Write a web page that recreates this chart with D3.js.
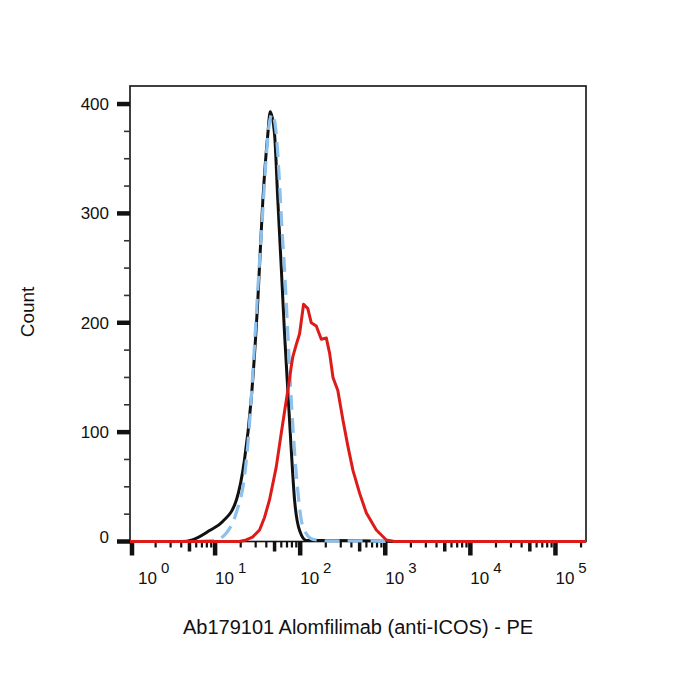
<!DOCTYPE html>
<html>
<head>
<meta charset="utf-8">
<script src="https://cdn.jsdelivr.net/npm/d3@7"></script>
<style>
  body { margin: 0; background: #fff; }
  svg { font-family: "Liberation Sans", Arial, sans-serif; }
</style>
</head>
<body>
<div id="chart"></div>
<script>
// fluorescence intensity (PE) and cell counts
const blackX = [1, 4.1, 5.4, 8.6, 12.2, 17.8, 22.1, 26.5, 31.8, 36.4, 41.7, 44.5, 49.9, 54.6, 59.9, 65.5, 71.6, 78.5, 85.9, 98.4, 118, 169, 500, 984, 1290, 228000];
const blackY = [0, 0, 1.5, 10, 18, 38, 74, 129, 221, 312, 373, 393, 373, 312, 251, 190, 138, 84, 38, 10, 1, 1, 0.8, 0.3, 0, 0];

const blueX = [1, 5.0, 9.8, 13.5, 17.7, 22.1, 24.9, 27.3, 29.9, 32.6, 35.8, 39.2, 42.8, 46.9, 52.3, 56.3, 60.9, 66.2, 71.6, 77.1, 83.0, 92.0, 107.6, 141, 222, 656, 984, 228000];
const blueY = [0, 0, 1, 7.5, 26, 59, 99, 145, 196, 245, 294, 343, 379, 391, 373, 337, 288, 242, 190, 141, 99, 53, 13.5, 2, 0.5, 0.5, 0, 0];

const redX = [1, 19.3, 23.2, 27.5, 33.3, 38.1, 43.6, 52.3, 59.9, 68.6, 71.6, 78.5, 82.0, 89.9, 98.4, 109.6, 123, 135, 154.6, 177, 203, 222, 243, 277, 318, 364, 417, 500, 600, 785, 1030, 1291, 228000];
const redY = [0, 0, 1.4, 4, 10.5, 22, 38, 68, 99, 129, 138, 160, 169, 180, 190, 217, 213, 200, 197, 185, 186, 172, 150, 138, 111, 87, 65, 44, 26, 10.5, 1.4, 0, 0];

const yTicks = [0, 100, 200, 300, 400];
const yMinor = [25, 50, 75, 125, 150, 175, 225, 250, 275, 325, 350, 375];
const decades = [1, 10, 100, 1000, 10000, 100000];
const decadeLabels = ["0", "1", "2", "3", "4", "5"];

const xMax = Math.pow(10, 5.359);
const yMax = 416.5;

const plot = { left: 130, right: 586, top: 86, bottom: 541.5 };

const svg = d3.select("#chart")
    .append("svg")
    .attr("width", 700)
    .attr("height", 700);

// Scales
const xScale = d3.scaleLog().domain([1, xMax]).range([plot.left, plot.right]);
const yScale = d3.scaleLinear().domain([0, yMax]).range([plot.bottom, plot.top]);

// frame
svg.append("rect")
    .attr("x", plot.left)
    .attr("y", plot.top)
    .attr("width", plot.right - plot.left)
    .attr("height", plot.bottom - plot.top)
    .attr("fill", "none")
    .attr("stroke", "#111")
    .attr("stroke-width", 1.6);

// y ticks
const yAxisG = svg.append("g");
yAxisG.selectAll(".ymajor")
    .data(yTicks)
    .enter()
    .append("line")
    .attr("x1", plot.left - 13)
    .attr("x2", plot.left)
    .attr("y1", d => yScale(d))
    .attr("y2", d => yScale(d))
    .attr("stroke", "#111")
    .attr("stroke-width", 4.5);

yAxisG.selectAll(".yminor")
    .data(yMinor)
    .enter()
    .append("line")
    .attr("x1", plot.left - 6)
    .attr("x2", plot.left)
    .attr("y1", d => yScale(d))
    .attr("y2", d => yScale(d))
    .attr("stroke", "#333")
    .attr("stroke-width", 1.6);

yAxisG.selectAll(".ylabel")
    .data(yTicks)
    .enter()
    .append("text")
    .attr("x", 109)
    .attr("y", d => yScale(d) + (d === 0 ? 1 : 6))
    .attr("text-anchor", "end")
    .attr("font-size", 17)
    .attr("fill", "#111")
    .text(d => d);

// x ticks: decades plus log minor ticks
const xMinor = [];
for (const dec of decades) {
    for (let k = 2; k <= 9; k++) {
        if (dec * k <= xMax) xMinor.push({ v: dec * k, mid: k === 5 });
    }
}

const xAxisG = svg.append("g");
xAxisG.selectAll(".xmajor")
    .data(decades)
    .enter()
    .append("line")
    .attr("x1", d => xScale(d) + (d === 1 ? 2 : 0))
    .attr("x2", d => xScale(d) + (d === 1 ? 2 : 0))
    .attr("y1", plot.bottom)
    .attr("y2", plot.bottom + 14)
    .attr("stroke", "#111")
    .attr("stroke-width", 4.5);

xAxisG.selectAll(".xminor")
    .data(xMinor)
    .enter()
    .append("line")
    .attr("x1", d => xScale(d.v))
    .attr("x2", d => xScale(d.v))
    .attr("y1", plot.bottom)
    .attr("y2", d => plot.bottom + (d.mid ? 10 : 6))
    .attr("stroke", "#111")
    .attr("stroke-width", d => d.mid ? 3.5 : 2.2);

const xLabels = xAxisG.selectAll(".xlabel")
    .data(decades)
    .enter()
    .append("text")
    .attr("x", d => xScale(d) + (d === 1 ? 8 : 0))
    .attr("y", 584)
    .attr("font-size", 17)
    .attr("fill", "#111");
xLabels.append("tspan").text("10");
xLabels.append("tspan")
    .attr("dx", 4)
    .attr("dy", -11)
    .attr("font-size", 15)
    .text((d, i) => decadeLabels[i]);

// Line generators
const line = d3.line()
    .x(d => xScale(d[0]))
    .y(d => yScale(d[1]))
    .curve(d3.curveMonotoneX);

const zip = (xs, ys) => xs.map((x, i) => [x, ys[i]]);

svg.append("path")
    .attr("d", line(zip(blackX, blackY)))
    .attr("fill", "none")
    .attr("stroke", "#111")
    .attr("stroke-width", 3);

svg.append("path")
    .attr("d", line(zip(blueX, blueY)))
    .attr("fill", "none")
    .attr("stroke", "#8dc0ea")
    .attr("stroke-width", 3.2)
    .attr("stroke-dasharray", "15,8");

svg.append("path")
    .attr("d", line.curve(d3.curveLinear)(zip(redX, redY)))
    .attr("fill", "none")
    .attr("stroke", "#dd1c1a")
    .attr("stroke-width", 3)
    .attr("stroke-linejoin", "round");

// axis titles
svg.append("text")
    .attr("transform", "translate(34, 312) rotate(-90)")
    .attr("text-anchor", "middle")
    .attr("font-size", 19)
    .attr("fill", "#111")
    .text("Count");

svg.append("text")
    .attr("x", 358)
    .attr("y", 634)
    .attr("text-anchor", "middle")
    .attr("font-size", 20)
    .attr("fill", "#111")
    .text("Ab179101 Alomfilimab (anti-ICOS) - PE");
</script>
</body>
</html>
